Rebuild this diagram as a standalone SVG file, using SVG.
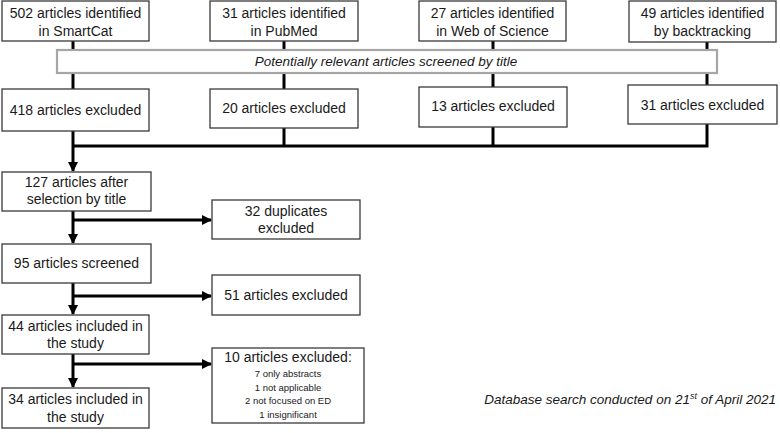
<svg xmlns="http://www.w3.org/2000/svg" width="780" height="433" viewBox="0 0 780 433">
<style>
.box{fill:#fff;stroke:#3a3a3a;stroke-width:1.3}
.bar{fill:#fff;stroke:#a6a6a6;stroke-width:2.2}
.t{font-family:"Liberation Sans",Arial,sans-serif;font-size:14px;fill:#1a1a1a;text-anchor:middle}
.s{font-family:"Liberation Sans",Arial,sans-serif;font-size:9.5px;fill:#1a1a1a;text-anchor:middle}
.i{font-family:"Liberation Sans",Arial,sans-serif;font-size:13.5px;font-style:italic;fill:#1a1a1a}
.c{fill:none;stroke:#000;stroke-width:3}
</style>
<defs>
<marker id="ah" viewBox="0 0 10 10" refX="9" refY="5" markerWidth="3.4" markerHeight="3.6" orient="auto" markerUnits="strokeWidth">
<path d="M0,0 L10,5 L0,10 z" fill="#000"/>
</marker>
</defs>
<g id="connectors">
<line class="c" x1="73" y1="41" x2="73" y2="89"/>
<line class="c" x1="284" y1="41" x2="284" y2="89"/>
<line class="c" x1="493" y1="41" x2="493" y2="87"/>
<line class="c" x1="707" y1="42" x2="707" y2="85"/>
<path class="c" d="M284,128 V146 M493,127 V146 M707,124 V146 H73"/>
<line class="c" x1="73" y1="131" x2="73" y2="171" marker-end="url(#ah)"/>
<line class="c" x1="73" y1="211" x2="73" y2="243" marker-end="url(#ah)"/>
<line class="c" x1="73" y1="220" x2="211" y2="220" marker-end="url(#ah)"/>
<line class="c" x1="73" y1="283" x2="73" y2="314" marker-end="url(#ah)"/>
<line class="c" x1="73" y1="296" x2="211" y2="296" marker-end="url(#ah)"/>
<line class="c" x1="73" y1="354" x2="73" y2="387" marker-end="url(#ah)"/>
<line class="c" x1="73" y1="364" x2="211" y2="364" marker-end="url(#ah)"/>
</g>
<g id="n-smartcat"><rect class="box" x="2" y="1" width="147" height="40"/><text class="t" x="75.5" y="18">502 articles identified</text><text class="t" x="75.5" y="36">in SmartCat</text></g>
<g id="n-pubmed"><rect class="box" x="210" y="1" width="148" height="40"/><text class="t" x="284" y="18">31 articles identified</text><text class="t" x="284" y="36">in PubMed</text></g>
<g id="n-wos"><rect class="box" x="419" y="1" width="147" height="40"/><text class="t" x="492.5" y="18">27 articles identified</text><text class="t" x="492.5" y="36">in Web of Science</text></g>
<g id="n-back"><rect class="box" x="629" y="1" width="147" height="41"/><text class="t" x="702.5" y="18">49 articles identified</text><text class="t" x="702.5" y="36">by backtracking</text></g>
<g id="n-screen"><rect class="bar" x="57" y="50" width="660" height="23"/><text class="i" x="386" y="66" text-anchor="middle">Potentially relevant articles screened by title</text></g>
<g id="n-ex1"><rect class="box" x="2" y="89" width="147" height="42"/><text class="t" x="75.5" y="115">418 articles excluded</text></g>
<g id="n-ex2"><rect class="box" x="210" y="89" width="148" height="39"/><text class="t" x="284" y="113">20 articles excluded</text></g>
<g id="n-ex3"><rect class="box" x="419" y="87" width="148" height="40"/><text class="t" x="493" y="111">13 articles excluded</text></g>
<g id="n-ex4"><rect class="box" x="628" y="85" width="149" height="39"/><text class="t" x="702.5" y="110">31 articles excluded</text></g>
<g id="n-127"><rect class="box" x="2" y="172" width="149" height="39"/><text class="t" x="76.5" y="187">127 articles after</text><text class="t" x="76.5" y="204">selection by title</text></g>
<g id="n-dup"><rect class="box" x="212" y="200" width="148" height="39"/><text class="t" x="286" y="216">32 duplicates</text><text class="t" x="286" y="233">excluded</text></g>
<g id="n-95"><rect class="box" x="2" y="244" width="149" height="39"/><text class="t" x="76.5" y="268">95 articles screened</text></g>
<g id="n-51"><rect class="box" x="212" y="275" width="148" height="40"/><text class="t" x="286" y="300">51 articles excluded</text></g>
<g id="n-44"><rect class="box" x="2" y="315" width="147" height="39"/><text class="t" x="75.5" y="331">44 articles included in</text><text class="t" x="75.5" y="348">the study</text></g>
<g id="n-10"><rect class="box" x="212" y="348" width="152" height="75"/><text class="t" x="288" y="362">10 articles excluded:</text><text class="s" x="288" y="377">7 only abstracts</text><text class="s" x="288" y="391">1 not applicable</text><text class="s" x="288" y="404">2 not focused on ED</text><text class="s" x="288" y="418">1 insignificant</text></g>
<g id="n-34"><rect class="box" x="2" y="388" width="147" height="40"/><text class="t" x="75.5" y="404">34 articles included in</text><text class="t" x="75.5" y="422">the study</text></g>
<text class="i" x="776" y="404" text-anchor="end">Database search conducted on 21<tspan font-size="9" dy="-5">st</tspan><tspan dy="5"> of April 2021</tspan></text>
</svg>
